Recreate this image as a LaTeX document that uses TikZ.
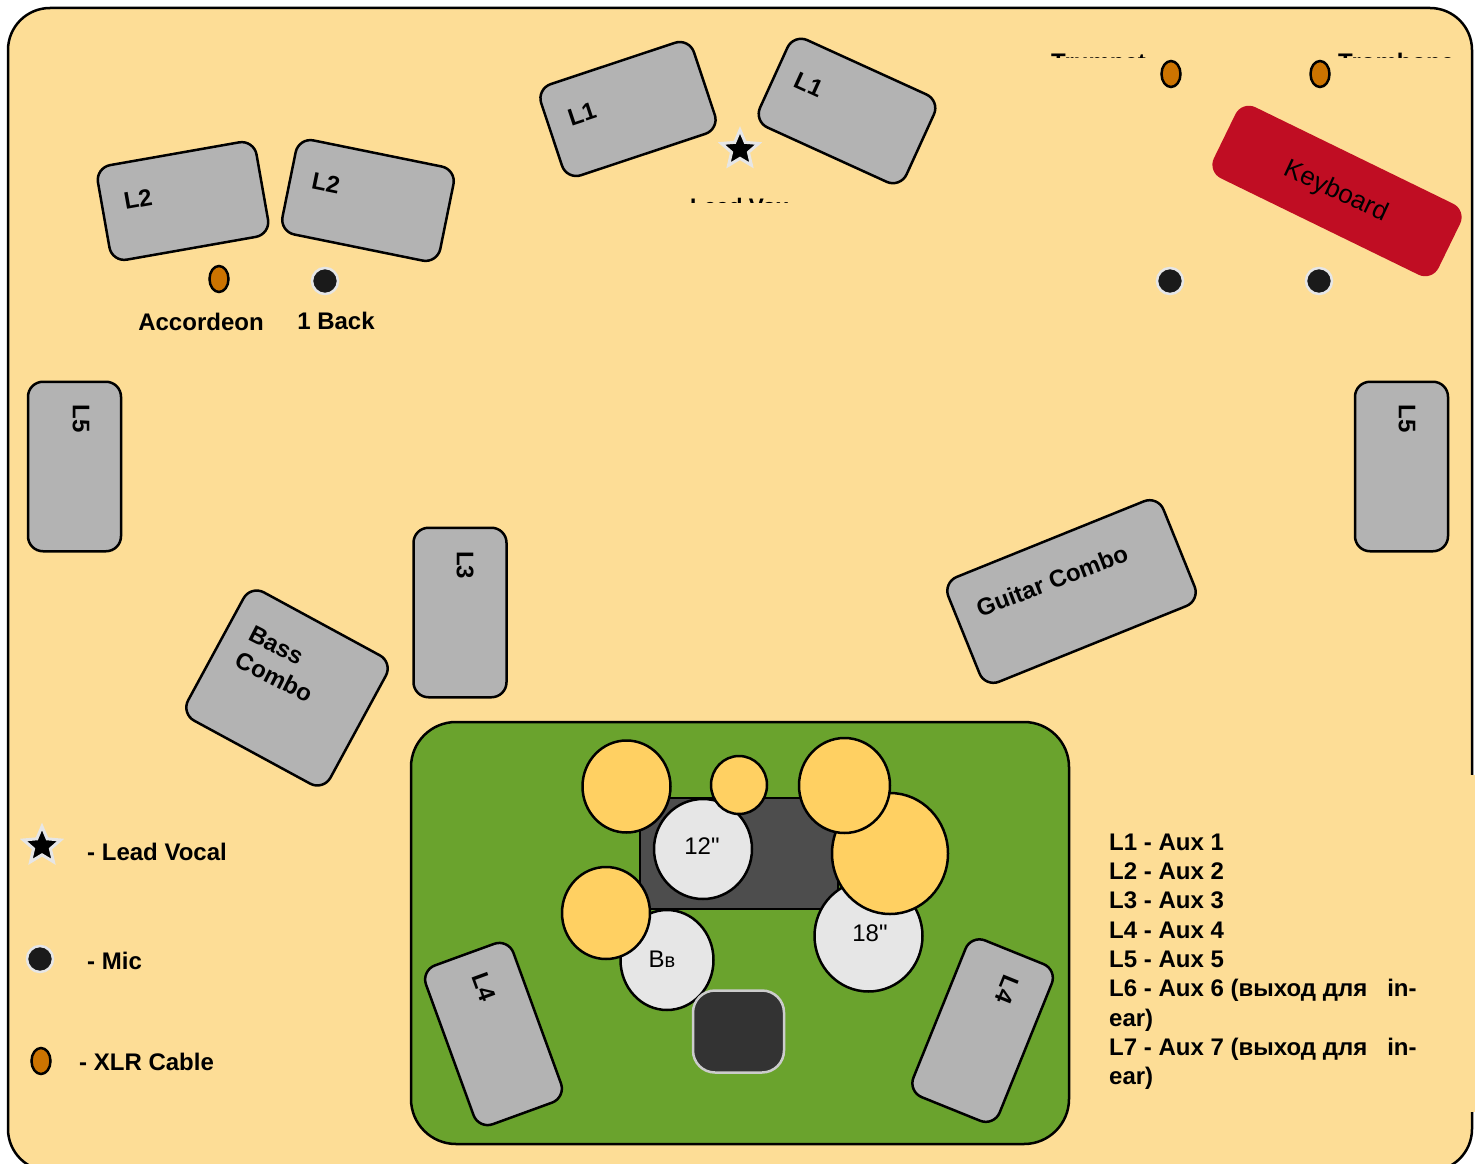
\documentclass[tikz,border=0pt]{standalone}
\usepackage{fontspec}
\setmainfont{Liberation Sans}
\newfontfamily\rawfont{Liberation Sans}
\usetikzlibrary{shapes.geometric}
\definecolor{bgc}{HTML}{FDDD96}
\definecolor{spk}{HTML}{B3B3B3}
\definecolor{kbd}{HTML}{C00D23}
\definecolor{stage}{HTML}{6AA32D}
\definecolor{riser}{HTML}{4D4D4D}
\definecolor{cym}{HTML}{FFD062}
\definecolor{drum}{HTML}{E6E6E6}
\definecolor{stool}{HTML}{333333}
\definecolor{xlr}{HTML}{CC7300}
\definecolor{micc}{HTML}{1A1A1A}
\tikzset{
  ln/.style={line width=2.5pt},
  speaker/.style={draw=black,ln,fill=spk,rectangle,rounded corners=15pt,inner sep=0pt},
  hspk/.style={speaker,minimum width=161pt,minimum height=96pt},
  vspk/.style={speaker,minimum width=93pt,minimum height=169.5pt},
  lbl/.style={inner sep=0pt,font=\fontsize{24}{29.3}\selectfont\bfseries},
  plain/.style={inner sep=0pt,font=\fontsize{24}{29.3}\selectfont},
  cymbal/.style={draw=black,ln,fill=cym,ellipse,inner sep=0pt},
  drumhead/.style={draw=black,ln,fill=drum,ellipse,inner sep=0pt},
  xlrplug/.style={draw=black,ln,fill=xlr,ellipse,inner sep=0pt,minimum width=19pt,minimum height=26pt},
  micdot/.style={draw=drum,ln,fill=micc,circle,inner sep=0pt,minimum size=26pt},
  leadstar/.style={draw=drum,line width=3pt,fill=black,star,star points=5,star point ratio=2.2,inner sep=0pt,minimum size=39pt},
}
\begin{document}
\begin{tikzpicture}[x=1pt,y=-1pt]
\useasboundingbox (0,0) rectangle (1481,1164);
\clip (0,0) rectangle (1481,1164);
\node[draw=black,ln,fill=bgc,rectangle,rounded corners=42pt,inner sep=0pt,minimum width=1464pt,minimum height=1163pt] (outer) at (740,589.5) {};
\fill[bgc] (1460,775) rectangle (1475,1112);

% clipped labels
\begin{scope}
\clip (1040,45) rectangle (1460,57.1);
\node[lbl,anchor=base west] (trumpet) at (1051,70.5) {Trumpet};
\node[lbl,anchor=base west] (trombone) at (1338,70.5) {Trombone};
\end{scope}
\begin{scope}
\clip (680,190) rectangle (800,202.4);
\node[lbl,anchor=base west,font=\fontsize{22.5}{27}\selectfont\bfseries] (leadvox) at (690,214) {Lead Vox};
\end{scope}

% front speakers
\node[hspk,rotate=18.4] (l1a) at (628,109) {};
\node[lbl,rotate=18.4] (l1at) at (582,114) {L1};
\node[hspk,rotate=-24.5] (l1b) at (847,111) {};
\node[lbl,rotate=-24.5] (l1bt) at (809,85) {L1};
\node[hspk,rotate=10] (l2a) at (183,201) {};
\node[lbl,rotate=10] (l2at) at (138,199) {L2};
\node[hspk,rotate=-11.5] (l2b) at (368,200.5) {};
\node[lbl,rotate=-11.5] (l2bt) at (326,183) {L2};
\node[vspk] (l5a) at (74.5,466.5) {};
\node[lbl,rotate=-90] (l5at) at (81,419) {L5};
\node[vspk] (l5b) at (1401.5,466.5) {};
\node[lbl,rotate=-90] (l5bt) at (1407,419) {L5};
\node[vspk] (l3) at (460,612.5) {};
\node[lbl,rotate=-90] (l3t) at (465,565) {L3};
\node[speaker,minimum width=162pt,minimum height=146pt,rotate=-28.5] (bass) at (287,688) {};
\node[lbl,rotate=-27,align=left] (basst) at (281,664) {Bass\\Combo};
\node[speaker,minimum width=232pt,minimum height=113pt,rotate=22] (guitar) at (1071.5,591.5) {};
\node[lbl,rotate=21] (guitart) at (1052,581) {Guitar Combo};
\node[rectangle,fill=kbd,rounded corners=15pt,inner sep=0pt,minimum width=250pt,minimum height=79pt,rotate=-26] (keyboard) at (1337,191) {};
\node[inner sep=0pt,font=\fontsize{26}{30}\selectfont,rotate=-25] (keyboardt) at (1336,192) {Keyboard};

% plugs and mics
\node[leadstar] (star1) at (740,149.5) {};
\node[xlrplug] (x1) at (219,279) {};
\node[micdot] (m1) at (325,281) {};
\node[xlrplug] (x2) at (1171,74) {};
\node[xlrplug] (x3) at (1320,74) {};
\node[micdot] (m2) at (1170,281) {};
\node[micdot] (m3) at (1319,281) {};
\node[lbl] (acc) at (201,322) {Accordeon};
\node[lbl] (back) at (336,321) {1 Back};

% stage
\node[draw=black,ln,fill=stage,rectangle,rounded corners=45pt,inner sep=0pt,minimum width=658pt,minimum height=422pt] (stagebox) at (740,933) {};
\node[draw=black,ln,fill=riser,rectangle,inner sep=0pt,minimum width=198pt,minimum height=111pt] (riserbox) at (739,853.5) {};
\node[drumhead,minimum width=98pt,minimum height=100pt] (tom) at (703,849) {};
\node[drumhead,minimum width=93pt,minimum height=100pt] (bb) at (667,960) {};
\node[drumhead,minimum width=108pt,minimum height=111pt] (floor) at (868.5,936) {};
\node[cymbal,minimum width=116pt,minimum height=121pt] (c4) at (890,853.5) {};
\node[cymbal,minimum width=88pt,minimum height=92pt] (c1) at (626.5,786.5) {};
\node[cymbal,minimum width=56pt,minimum height=58pt] (c2) at (739,785) {};
\node[cymbal,minimum width=91pt,minimum height=95pt] (c3) at (844.5,785.5) {};
\node[cymbal,minimum width=88pt,minimum height=92pt] (c5) at (606,913) {};
\node[draw=black!20,ln,fill=stool,rectangle,rounded corners=22pt,inner sep=0pt,minimum width=91pt,minimum height=82pt] (stoolbox) at (738.5,1031.5) {};
\node[plain] (tomt) at (702,846) {\rawfont 12"};
\node[plain] (floort) at (870,933) {\rawfont 18"};
\node[plain] (bbt) at (662,959) {B{\fontsize{20}{20}\selectfont в}};
\node[speaker,minimum width=93pt,minimum height=169pt,rotate=20] (l4a) at (493.5,1034) {};
\node[lbl,rotate=-70] (l4at) at (484,987) {L4};
\node[speaker,minimum width=93pt,minimum height=169pt,rotate=-22] (l4b) at (982.6,1030.6) {};
\node[lbl,rotate=-112] (l4bt) at (1007,990) {L4};

% legend
\node[leadstar] (star2) at (42,846) {};
\node[lbl,anchor=west] (lg1) at (87,852) {- Lead Vocal};
\node[micdot] (m4) at (40,959) {};
\node[lbl,anchor=west] (lg2) at (87,961) {- Mic};
\node[xlrplug] (x4) at (41,1061) {};
\node[lbl,anchor=west] (lg3) at (79,1062) {- XLR Cable};

% aux list
\node[lbl,anchor=north west,align=left] (aux) at (1109,833.5) {L1 - Aux 1\\L2 - Aux 2\\L3 - Aux 3\\L4 - Aux 4\\L5 - Aux 5\\L6 - Aux 6 (выход для\hspace{20pt}in-\\ear)\\L7 - Aux 7 (выход для\hspace{20pt}in-\\ear)};
\end{tikzpicture}
\end{document}
